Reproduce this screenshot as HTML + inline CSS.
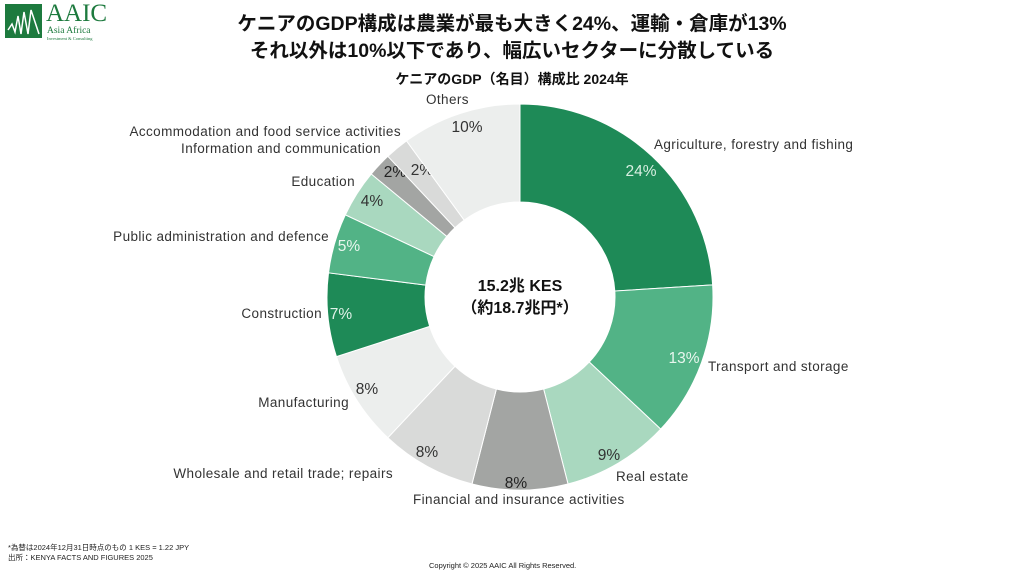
<!DOCTYPE html>
<html><head><meta charset="utf-8"><style>
body{margin:0;width:1024px;height:576px;background:#fff;overflow:hidden;font-family:"Liberation Sans","Noto Sans CJK JP",sans-serif;position:relative}
.t{position:absolute;white-space:nowrap}
.lb{font-size:13.5px;letter-spacing:0.4px;color:#333}
.r{text-align:right}
</style></head><body>
<svg width="1024" height="576" style="position:absolute;left:0;top:0" id="s">
<g id="g"></g>
</svg>
<div class="t" style="left:5px;top:4px;width:37px;height:34px;background:#1d7a3e"></div>
<svg width="37" height="34" style="position:absolute;left:5px;top:4px"><polyline points="3,26 7,20 10,28 13,12 16,30 19,8 23,30 26,6 34,30" fill="none" stroke="#fff" stroke-width="1.5"/></svg>
<div class="t" style="left:46px;top:1px;font-family:'Liberation Serif',serif;font-size:25px;color:#1d7a3e;line-height:26px">AAIC</div>
<div class="t" style="left:47px;top:26px;font-family:'Liberation Serif',serif;font-size:9.5px;color:#1d7a3e">Asia Africa</div>
<div class="t" style="left:47px;top:36px;font-family:'Liberation Serif',serif;font-size:4.5px;color:#1d7a3e">Investment &amp; Consulting</div>
<div class="t" style="left:0;width:1024px;text-align:center;top:11px;font-size:19.5px;font-weight:bold;line-height:27px;color:#111">ケニアのGDP構成は農業が最も大きく24%、運輸・倉庫が13%<br>それ以外は10%以下であり、幅広いセクターに分散している</div>
<div class="t" style="left:0;width:1024px;text-align:center;top:69px;font-size:14px;font-weight:bold;color:#111">ケニアのGDP（名目）構成比 2024年</div>
<div class="t" style="left:420px;width:200px;text-align:center;top:276px;font-size:16px;font-weight:bold;line-height:22px;color:#111">15.2兆 KES<br>（約18.7兆円*）</div>
<div class="t lb" style="left:426px;top:92px">Others</div>
<div class="t lb r" style="right:623px;top:124px">Accommodation and food service activities</div>
<div class="t lb r" style="right:643px;top:141px">Information and communication</div>
<div class="t lb r" style="right:669px;top:174px">Education</div>
<div class="t lb r" style="right:695px;top:229px">Public administration and defence</div>
<div class="t lb r" style="right:702px;top:306px">Construction</div>
<div class="t lb r" style="right:675px;top:395px">Manufacturing</div>
<div class="t lb r" style="right:631px;top:466px">Wholesale and retail trade; repairs</div>
<div class="t lb" style="left:413px;top:492px">Financial and insurance activities</div>
<div class="t lb" style="left:616px;top:469px">Real estate</div>
<div class="t lb" style="left:708px;top:359px">Transport and storage</div>
<div class="t lb" style="left:654px;top:137px">Agriculture, forestry and fishing</div>
<div class="t" style="left:8px;top:543px;font-size:7.5px;color:#222;line-height:10px">*為替は2024年12月31日時点のもの 1 KES = 1.22 JPY<br>出所：KENYA FACTS AND FIGURES 2025</div>
<div class="t" style="left:429px;top:561px;font-size:7.5px;color:#222">Copyright © 2025 AAIC All Rights Reserved.</div>
<script>
var d=[[24,'#1e8a57','#d8f0e2'],[13,'#52b386','#e8f6ee'],[9,'#a9d8bf','#333'],[8,'#a3a5a3','#222'],[8,'#d9dad9','#333'],[8,'#eceeed','#333'],[7,'#1e8a57','#e0f2e8'],[5,'#52b386','#e8f6ee'],[4,'#a9d8bf','#333'],[2,'#a3a5a3','#222'],[2,'#d9dad9','#333'],[10,'#eceeed','#333']];
var lp=[[641,170],[684,357],[609,454],[516,482],[427,451],[367,388],[341,313],[349,245],[372,200],[395,171],[422,169],[467,126]];
var cx=520,cy=297,R=193,r=95,a=0,h='';
function p(rad,ang){return [cx+rad*Math.sin(ang),cy-rad*Math.cos(ang)];}
d.forEach(function(s,i){var a1=a+s[0]/100*2*Math.PI;var A=p(R,a),B=p(R,a1),C=p(r,a1),D=p(r,a);var l=(a1-a)>Math.PI?1:0;
h+='<path d="M'+A+' A'+R+','+R+' 0 '+l+' 1 '+B+' L'+C+' A'+r+','+r+' 0 '+l+' 0 '+D+'Z" fill="'+s[1]+'" stroke="#fff" stroke-width="1"/>';
h+='<text x="'+lp[i][0]+'" y="'+(lp[i][1]+6)+'" text-anchor="middle" font-family="Liberation Sans,sans-serif" font-size="15.5" fill="'+s[2]+'">'+s[0]+'%</text>';a=a1;});
document.getElementById('g').innerHTML=h;
</script>
</body></html>
